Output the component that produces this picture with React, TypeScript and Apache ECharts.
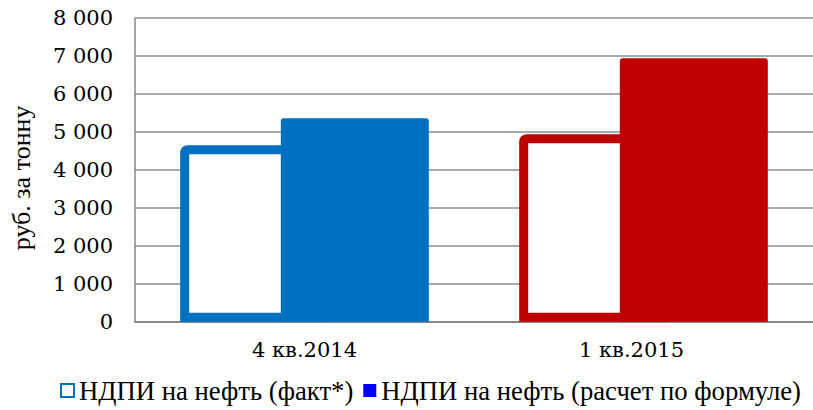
import React, { useEffect, useRef } from "react";
import * as echarts from "echarts";

const categories = ["4 кв.2014", "1 кв.2015"];
const factValues = [4650, 4940];
const formulaValues = [5360, 6940];
const pointColors = ["#0070C0", "#C00000"];
const seriesNames = ["НДПИ на нефть (факт*)", "НДПИ на нефть (расчет по формуле)"];
const yTicks = { min: 0, max: 8000, interval: 1000 };
const yTitle = "руб. за тонну";

const SERIF_NUM = "'DejaVu Serif', serif";
const SERIF_TXT = "'Liberation Serif', 'Times New Roman', serif";

export default function App() {
  const ref = useRef<HTMLDivElement>(null);
  useEffect(() => {
    if (!ref.current) return;
    const chart = echarts.init(ref.current, null, { renderer: "svg" });
    const fmt = (v: number) => {
      const s = String(Math.round(v));
      return s.replace(/\B(?=(\d{3})+(?!\d))/g, " ");
    };
    chart.setOption({
      animation: false,
      backgroundColor: "#ffffff",
      grid: { left: 127, top: 18, width: 694, height: 303.7, containLabel: false },
      legend: {
        left: 60,
        top: 377,
        width: 790,
        padding: 0,
        itemWidth: 13,
        itemHeight: 13,
        itemGap: 10,
        icon: "rect",
        textStyle: { fontFamily: SERIF_TXT, fontSize: 26.7, color: "#000" },
        data: [
          { name: seriesNames[0], itemStyle: { color: "#ffffff", borderColor: "#0070C0", borderWidth: 2 } },
          { name: seriesNames[1], itemStyle: { color: "#0000FF", borderWidth: 0 } },
        ],
      },
      xAxis: {
        type: "category",
        data: categories,
        axisLine: { show: true, lineStyle: { color: "#878787", width: 2 } },
        axisTick: { show: false },
        axisLabel: {
          margin: 18,
          fontFamily: SERIF_NUM,
          fontSize: 21,
          color: "#000",
          formatter: (v: string, i: number) => (i === 1 ? `{s|${v}}` : `{n|${v}}`),
          rich: {
            n: { fontFamily: SERIF_NUM, fontSize: 21, color: "#000" },
            s: { fontFamily: SERIF_NUM, fontSize: 21, color: "#000", padding: [0, 24, 0, 0] },
          },
        },
      },
      yAxis: {
        type: "value",
        min: yTicks.min,
        max: yTicks.max,
        interval: yTicks.interval,
        name: yTitle,
        nameLocation: "middle",
        nameGap: 101,
        nameRotate: 90,
        nameTextStyle: { fontFamily: SERIF_TXT, fontSize: 26, color: "#000", padding: [0, 16, 0, 0] },
        axisLine: { show: true, lineStyle: { color: "#878787", width: 1.5 } },
        axisTick: { show: false },
        splitLine: { show: true, lineStyle: { color: "#8c8c8c", width: 1.5 } },
        axisLabel: {
          margin: 22,
          fontFamily: SERIF_NUM,
          fontSize: 21,
          color: "#000",
          formatter: fmt,
        },
      },
      series: [
        {
          name: seriesNames[0],
          type: "bar",
          barWidth: 148,
          barGap: "-32%",
          itemStyle: { color: "#ffffff", borderColor: pointColors[0], borderWidth: 9, borderRadius: [3, 3, 0, 0] },
          data: factValues.map((v, i) => ({
            value: v,
            itemStyle: { color: "#ffffff", borderColor: pointColors[i], borderWidth: 9, borderRadius: [3, 3, 0, 0] },
          })),
        },
        {
          name: seriesNames[1],
          type: "bar",
          barWidth: 148,
          barGap: "-32%",
          itemStyle: { color: "#0000FF" },
          data: formulaValues.map((v, i) => ({
            value: v,
            itemStyle: { color: pointColors[i], borderRadius: [3, 3, 0, 0] },
          })),
        },
      ],
    });
    return () => chart.dispose();
  }, []);
  return (
    <div
      ref={ref}
      style={{ position: "absolute", left: 0, top: 0, width: 813, height: 410 }}
    />
  );
}
